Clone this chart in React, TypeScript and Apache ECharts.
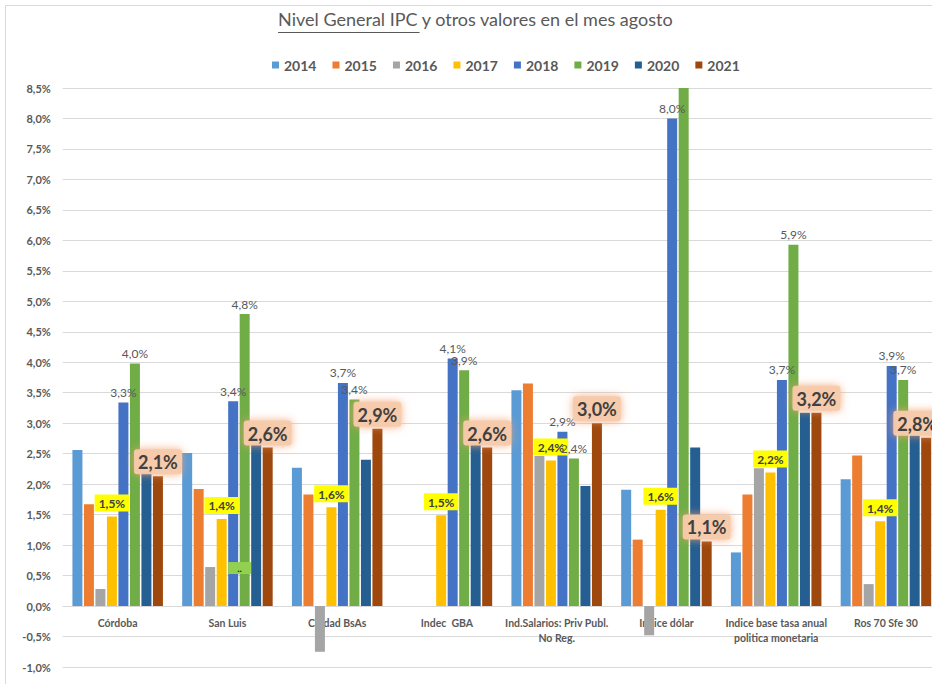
import React, { useEffect, useRef } from "react";
import * as echarts from "echarts";

const categories = [
  "Córdoba",
  "San Luis",
  "Ciudad BsAs",
  "Indec  GBA",
  "Ind.Salarios: Priv Publ.\nNo Reg.",
  "Indice dólar",
  "Indice base tasa anual\npolitica monetaria",
  "Ros 70 Sfe 30",
];
const years = ["2014", "2015", "2016", "2017", "2018", "2019", "2020", "2021"];
const v2014 = [2.56, 2.51, 2.27, null, 3.54, 1.91, 0.88, 2.08];
const v2015 = [1.67, 1.92, 1.83, null, 3.65, 1.09, 1.83, 2.47];
const v2016 = [0.28, 0.64, -0.75, null, 2.46, -0.48, 2.26, 0.36];
const v2017 = [1.47, 1.43, 1.62, 1.49, 2.39, 1.58, 2.19, 1.39];
const v2018 = [3.34, 3.36, 3.66, 4.06, 2.86, 8.0, 3.71, 3.94];
const v2019 = [3.98, 4.79, 3.39, 3.87, 2.42, 8.7, 5.93, 3.71];
const v2020 = [2.2, 2.67, 2.4, 2.67, 1.97, 2.6, 3.17, 2.8];
const v2021 = [2.13, 2.6, 2.91, 2.6, 3.0, 1.06, 3.17, 2.76];
const yTicks = { min: -1, max: 8.5, interval: 0.5 };
const titleMain = "Nivel General IPC";
const titleRest = " y otros valores en el mes agosto";

const colors = ["#5B9BD5", "#ED7D31", "#A5A5A5", "#FFC000", "#4472C4", "#70AD47", "#255E91", "#9E480E"];
const FONT = "Lato, 'Open Sans', sans-serif";

const fmt = (v: number) => v.toFixed(1).replace(".", ",") + "%";

function measure(text: string, font: string) {
  const c = document.createElement("canvas").getContext("2d");
  if (!c) return text.length * 8;
  c.font = font;
  return c.measureText(text).width;
}

export default function App() {
  const ref = useRef<HTMLDivElement>(null);
  useEffect(() => {
    document.body.style.margin = "0";
    if (!ref.current) return;
    const chart = echarts.init(ref.current, null, { renderer: "svg" });

    const titleFontSize = 18;
    const titleFont = `normal ${titleFontSize}px Lato`;
    const wMain = measure(titleMain, titleFont);
    const wAll = measure(titleMain + titleRest, titleFont);
    const titleCenter = 476;
    const titleLeft = titleCenter - wAll / 2;

    const gridTop = 88;
    const gridHeight = 579;
    // x axis sits at the value 0 of the y axis
    const zeroOffset = -gridHeight * ((0 - yTicks.min) / (yTicks.max - yTicks.min));

    const data = [v2014, v2015, v2016, v2017, v2018, v2019, v2020, v2021];

    const grayLabel = {
      show: true,
      position: "top",
      distance: 4,
      color: "#595959",
      fontSize: 12,
      fontFamily: FONT,
      formatter: (p: any) => fmt(p.value),
    };
    const yellowLabel = {
      show: true,
      position: "top",
      distance: 5,
      color: "#404040",
      fontSize: 12,
      fontWeight: "bold",
      fontFamily: FONT,
      backgroundColor: "#FFFF00",
      padding: [3, 4, 2, 4],
      formatter: (p: any) => fmt(p.value),
    };
    const bigLabel = {
      show: true,
      position: "top",
      distance: 2,
      color: "#404040",
      fontSize: 18,
      fontWeight: "bold",
      fontFamily: FONT,
      backgroundColor: "rgba(247,203,172,0.95)",
      borderRadius: 3,
      padding: [4, 4, 3, 4],
      shadowBlur: 8,
      shadowColor: "rgba(244,160,110,0.9)",
      formatter: (p: any) => fmt(p.value),
    };

    const series = years.map((y, si) => {
      let values: any[] = data[si].slice();
      let label: any = { show: false };
      if (si === 3) label = yellowLabel;
      if (si === 4) label = grayLabel;
      if (si === 5) {
        label = grayLabel;
        values = values.map((v, i) => (i === 5 ? { value: v, label: { show: false } } : v));
      }
      if (si === 7) {
        label = bigLabel;
        values = values.map((v, i) => (i === 7 ? { value: v, label: { offset: [-9, 0] } } : v));
      }
      if (si === 2) {
        values = values.map((v, i) =>
          i === 1
            ? {
                value: v,
                label: {
                  show: true,
                  position: [23, -5],
                  align: "left",
                  verticalAlign: "top",
                  backgroundColor: "#92D050",
                  color: "#222",
                  fontSize: 10,
                  fontWeight: "bold",
                  padding: [1, 9, 1, 9],
                  formatter: "..",
                },
              }
            : v
        );
      }
      return {
        name: y,
        type: "bar",
        barWidth: 10,
        barGap: "15%",
        clip: true,
        itemStyle: { color: colors[si] },
        label,
        data: values,
      };
    });

    chart.setOption({
      animation: false,
      color: colors,
      textStyle: { fontFamily: FONT },
      title: {
        text: titleMain + titleRest,
        left: titleLeft,
        top: 10,
        padding: 0,
        textStyle: { fontSize: titleFontSize, fontWeight: "normal", color: "#595959", fontFamily: "Lato" },
      },
      legend: {
        data: years,
        left: 267,
        top: 53,
        icon: "rect",
        itemWidth: 7,
        itemHeight: 7,
        itemGap: 16,
        textStyle: { fontSize: 14, fontWeight: "bold", color: "#595959", fontFamily: FONT },
      },
      grid: {
        left: 62.8,
        top: gridTop,
        width: 878,
        height: gridHeight,
        containLabel: false,
        outerBoundsMode: "none",
      },
      xAxis: {
        type: "category",
        data: categories,
        offset: zeroOffset,
        axisLine: { onZero: false, lineStyle: { color: "#d9d9d9" } },
        axisTick: { show: false },
        axisLabel: {
          interval: 0,
          color: "#595959",
          fontSize: 10.5,
          fontWeight: "bold",
          fontFamily: FONT,
          margin: 9,
          lineHeight: 15,
        },
      },
      yAxis: {
        type: "value",
        min: yTicks.min,
        max: yTicks.max,
        interval: yTicks.interval,
        axisLine: { show: false },
        axisTick: { show: false },
        splitLine: { lineStyle: { color: "#d9d9d9" } },
        axisLabel: {
          formatter: (v: number) => fmt(v),
          color: "#595959",
          fontSize: 11,
          fontWeight: "bold",
          fontFamily: FONT,
          margin: 12,
        },
      },
      graphic: [
        {
          type: "line",
          shape: { x1: 5.5, y1: 5.5, x2: 932, y2: 5.5 },
          style: { stroke: "#d9d9d9", lineWidth: 1 },
          silent: true,
        },
        {
          type: "line",
          shape: { x1: 5.5, y1: 5.5, x2: 5.5, y2: 684 },
          style: { stroke: "#d9d9d9", lineWidth: 1 },
          silent: true,
        },
        {
          type: "line",
          shape: { x1: titleLeft, y1: 32.5, x2: titleLeft + wMain + 2, y2: 32.5 },
          style: { stroke: "#595959", lineWidth: 1 },
          silent: true,
        },
      ],
      series,
    });
    return () => chart.dispose();
  }, []);
  return <div ref={ref} style={{ width: 932, height: 684, position: "absolute", left: 0, top: 0 }} />;
}
